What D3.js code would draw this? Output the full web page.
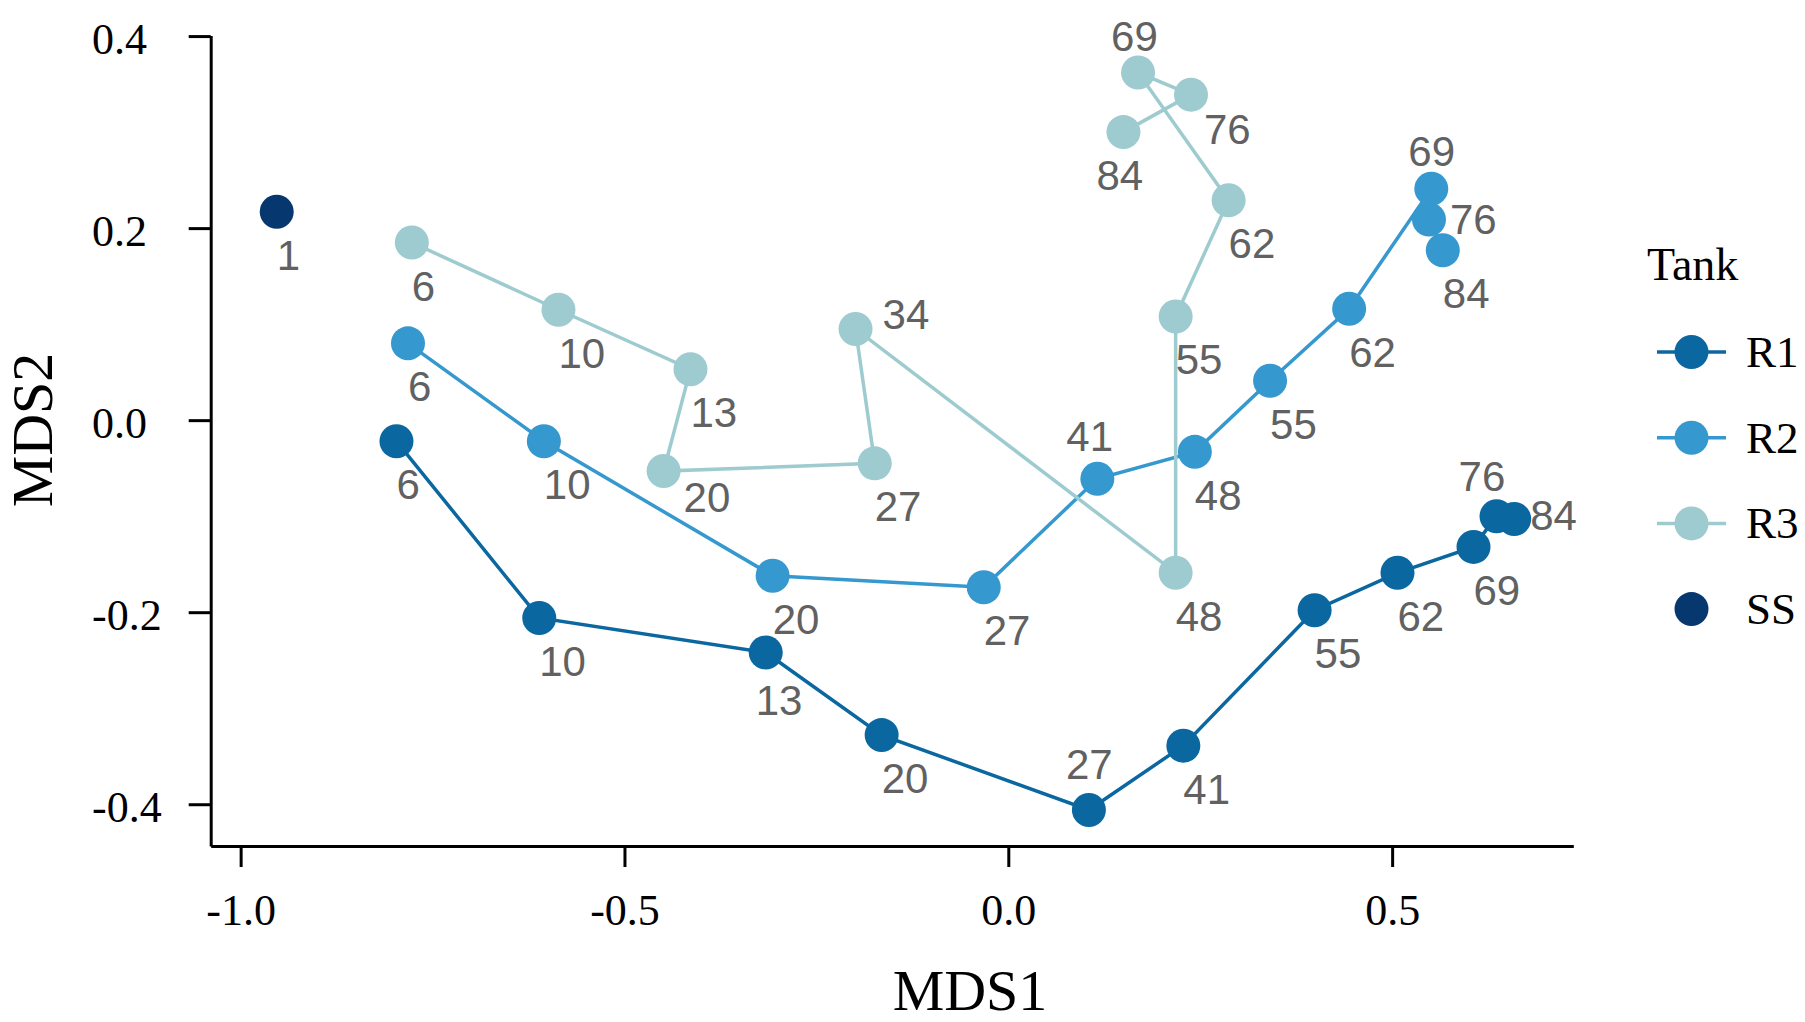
<!DOCTYPE html>
<html>
<head>
<meta charset="utf-8">
<script src="https://cdn.jsdelivr.net/npm/d3@7"></script>
<style>
   body { margin: 0; background: #fff; }
   svg { display: block; }
</style>
</head>
<body>
<div class="mds-chart-container"></div>
<script>
// mds ordination, one path per tank, points labelled with sampling day

const tank_names = ['R1', 'R2', 'R3', 'SS'];
const tank_colors = ['#0b67a0', '#3598cf', '#9dcbcf', '#07376f'];

const r1_days = [6, 10, 13, 20, 27, 41, 55, 62, 69, 76, 84];
const r1_mds1 = [-0.797, -0.611, -0.316, -0.165, 0.105, 0.228, 0.399, 0.507, 0.606, 0.636, 0.659];
const r1_mds2 = [-0.022, -0.206, -0.242, -0.328, -0.406, -0.339, -0.198, -0.159, -0.132, -0.100, -0.103];

const r2_days = [6, 10, 20, 27, 41, 48, 55, 62, 69, 76, 84];
const r2_mds1 = [-0.782, -0.605, -0.307, -0.032, 0.116, 0.243, 0.341, 0.444, 0.551, 0.548, 0.566];
const r2_mds2 = [0.080, -0.022, -0.162, -0.174, -0.061, -0.033, 0.041, 0.116, 0.241, 0.209, 0.177];

const r3_days = [6, 10, 13, 20, 27, 34, 48, 55, 62, 69, 76, 84];
const r3_mds1 = [-0.777, -0.586, -0.414, -0.449, -0.174, -0.199, 0.218, 0.218, 0.287, 0.169, 0.238, 0.150];
const r3_mds2 = [0.185, 0.115, 0.053, -0.053, -0.045, 0.095, -0.159, 0.108, 0.229, 0.362, 0.339, 0.300];

const ss_days = [1];
const ss_mds1 = [-0.953];
const ss_mds2 = [0.217];

const x_ticks = [-1.0, -0.5, 0.0, 0.5];
const y_ticks = [-0.4, -0.2, 0.0, 0.2, 0.4];

// label placement (pixels), default is just below the point
const default_nudge = [0, 43];
const label_nudge = {
   'R3-20': [20, 26], 'R3-34': [27, -15], 'R3-69': [-27, -37],
   'R3-76': [13, 34], 'R3-84': [-27, 43],
   'R2-41': [-31, -43], 'R2-69': [-23, -38], 'R2-76': [21, 0],
   'R1-13': [-10, 47], 'R1-27': [-23, -46], 'R1-76': [-38, -40], 'R1-84': [16, -4],
};

function build_series() {
   const cols = [
      [r1_days, r1_mds1, r1_mds2],
      [r2_days, r2_mds1, r2_mds2],
      [r3_days, r3_mds1, r3_mds2],
      [ss_days, ss_mds1, ss_mds2],
   ];
   return tank_names.map((name, i) => ({
      name: name,
      color: tank_colors[i],
      values: cols[i][0].map((day, j) => ({day: day, x: cols[i][1][j], y: cols[i][2][j], tank: name})),
   }));
}

function build_container(width, height) {
   return d3.select('.mds-chart-container')
      .append('svg')
      .attr('width', width)
      .attr('height', height);
}

function draw_axes(svg, x_scale, y_scale) {
   const fmt = d => d.toFixed(1); // plain hyphen like the original

   const x_axis = d3.axisBottom(x_scale)
      .tickValues(x_ticks)
      .tickFormat(fmt)
      .tickSizeOuter(0)
      .tickSizeInner(21)
      .tickPadding(27);

   const y_axis = d3.axisLeft(y_scale)
      .tickValues(y_ticks)
      .tickFormat(fmt)
      .tickSizeOuter(0)
      .tickSizeInner(22)
      .tickPadding(24);

   const gx = svg.append('g')
      .attr('class', 'x axis')
      .attr('transform', `translate(0, ${y_scale.range()[0]})`)
      .call(x_axis);

   const gy = svg.append('g')
      .attr('class', 'y axis')
      .attr('transform', `translate(${x_scale.range()[0]}, 0)`)
      .call(y_axis);

   [gx, gy].forEach(g => {
      g.select('.domain').attr('stroke', '#000').attr('stroke-width', 3);
      g.selectAll('.tick line').attr('stroke', '#000').attr('stroke-width', 3);
      g.selectAll('.tick text')
         .attr('fill', '#000')
         .style('font-family', '"Liberation Serif", "Times New Roman", serif')
         .style('font-size', '44px');
   });
   // the y labels are left aligned in the original
   gy.selectAll('.tick text')
      .attr('text-anchor', 'start')
      .attr('x', 92 - x_scale.range()[0])
      .attr('dy', '0.39em');
}

function draw_titles(svg) {
   const serif = '"Liberation Serif", "Times New Roman", serif';
   svg.append('text')
      .attr('x', 970)
      .attr('y', 1010)
      .attr('text-anchor', 'middle')
      .style('font-family', serif)
      .style('font-size', '58px')
      .text('MDS1');

   svg.append('text')
      .attr('transform', 'translate(52, 430) rotate(-90)')
      .attr('text-anchor', 'middle')
      .style('font-family', serif)
      .style('font-size', '58px')
      .text('MDS2');
}

function draw_paths(svg, series, x_scale, y_scale) {
   const line_gen = d3.line()
      .x(d => x_scale(d.x))
      .y(d => y_scale(d.y));

   svg.append('g')
      .attr('class', 'paths')
      .selectAll('path')
      .data(series.filter(s => s.values.length > 1))
      .enter()
      .append('path')
      .attr('d', d => line_gen(d.values))
      .style('fill', 'none')
      .style('stroke', d => d.color)
      .style('stroke-width', 3.5);
}

function draw_points(svg, series, x_scale, y_scale) {
   svg.append('g')
      .attr('class', 'points')
      .selectAll('g')
      .data(series)
      .enter()
      .append('g')
      .style('fill', d => d.color)
      .selectAll('circle')
      .data(d => d.values)
      .enter()
      .append('circle')
      .attr('cx', d => x_scale(d.x))
      .attr('cy', d => y_scale(d.y))
      .attr('r', 17);
}

function draw_labels(svg, series, x_scale, y_scale) {
   const all_points = series.flatMap(s => s.values);
   svg.append('g')
      .attr('class', 'day-labels')
      .selectAll('text')
      .data(all_points)
      .enter()
      .append('text')
      .attr('x', d => x_scale(d.x) + (label_nudge[`${d.tank}-${d.day}`] || default_nudge)[0])
      .attr('y', d => y_scale(d.y) + (label_nudge[`${d.tank}-${d.day}`] || default_nudge)[1] + 15)
      .style('font-family', '"Liberation Sans", Arial, sans-serif')
      .style('font-size', '42px')
      .style('fill', '#616161')
      .text(d => d.day);
}

function draw_legend(svg, series) {
   const legend = svg.append('g')
      .attr('class', 'legend')
      .attr('transform', 'translate(1647, 0)');

   legend.append('text')
      .attr('x', 0)
      .attr('y', 280)
      .style('font-family', '"Liberation Serif", "Times New Roman", serif')
      .style('font-size', '46px')
      .text('Tank');

   const item = legend.selectAll('.legend-item')
      .data(series)
      .enter()
      .append('g')
      .attr('class', 'legend-item')
      .attr('transform', (d, i) => `translate(0, ${352 + i * 85.7})`);

   item.filter(d => d.values.length > 1)
      .append('line')
      .attr('x1', 10)
      .attr('x2', 79)
      .style('stroke', d => d.color)
      .style('stroke-width', 3.5);

   item.append('circle')
      .attr('cx', 44.5)
      .attr('r', 17)
      .style('fill', d => d.color);

   item.append('text')
      .attr('x', 99)
      .attr('y', 15)
      .style('font-family', '"Liberation Serif", "Times New Roman", serif')
      .style('font-size', '45px')
      .text(d => d.name);
}

function mds_chart_main() {
   const width = 1805;
   const height = 1022;

   // panel edges measured in page pixels
   const x_scale = d3.scaleLinear().domain([-1.039, 0.736]).range([210.7, 1573.3]);
   const y_scale = d3.scaleLinear().domain([-0.4435, 0.4005]).range([846, 35.6]);

   const series = build_series();
   const svg = build_container(width, height);

   draw_paths(svg, series, x_scale, y_scale);
   draw_points(svg, series, x_scale, y_scale);
   draw_axes(svg, x_scale, y_scale);
   draw_labels(svg, series, x_scale, y_scale);
   draw_titles(svg);
   draw_legend(svg, series);
}

mds_chart_main();
</script>
</body>
</html>
